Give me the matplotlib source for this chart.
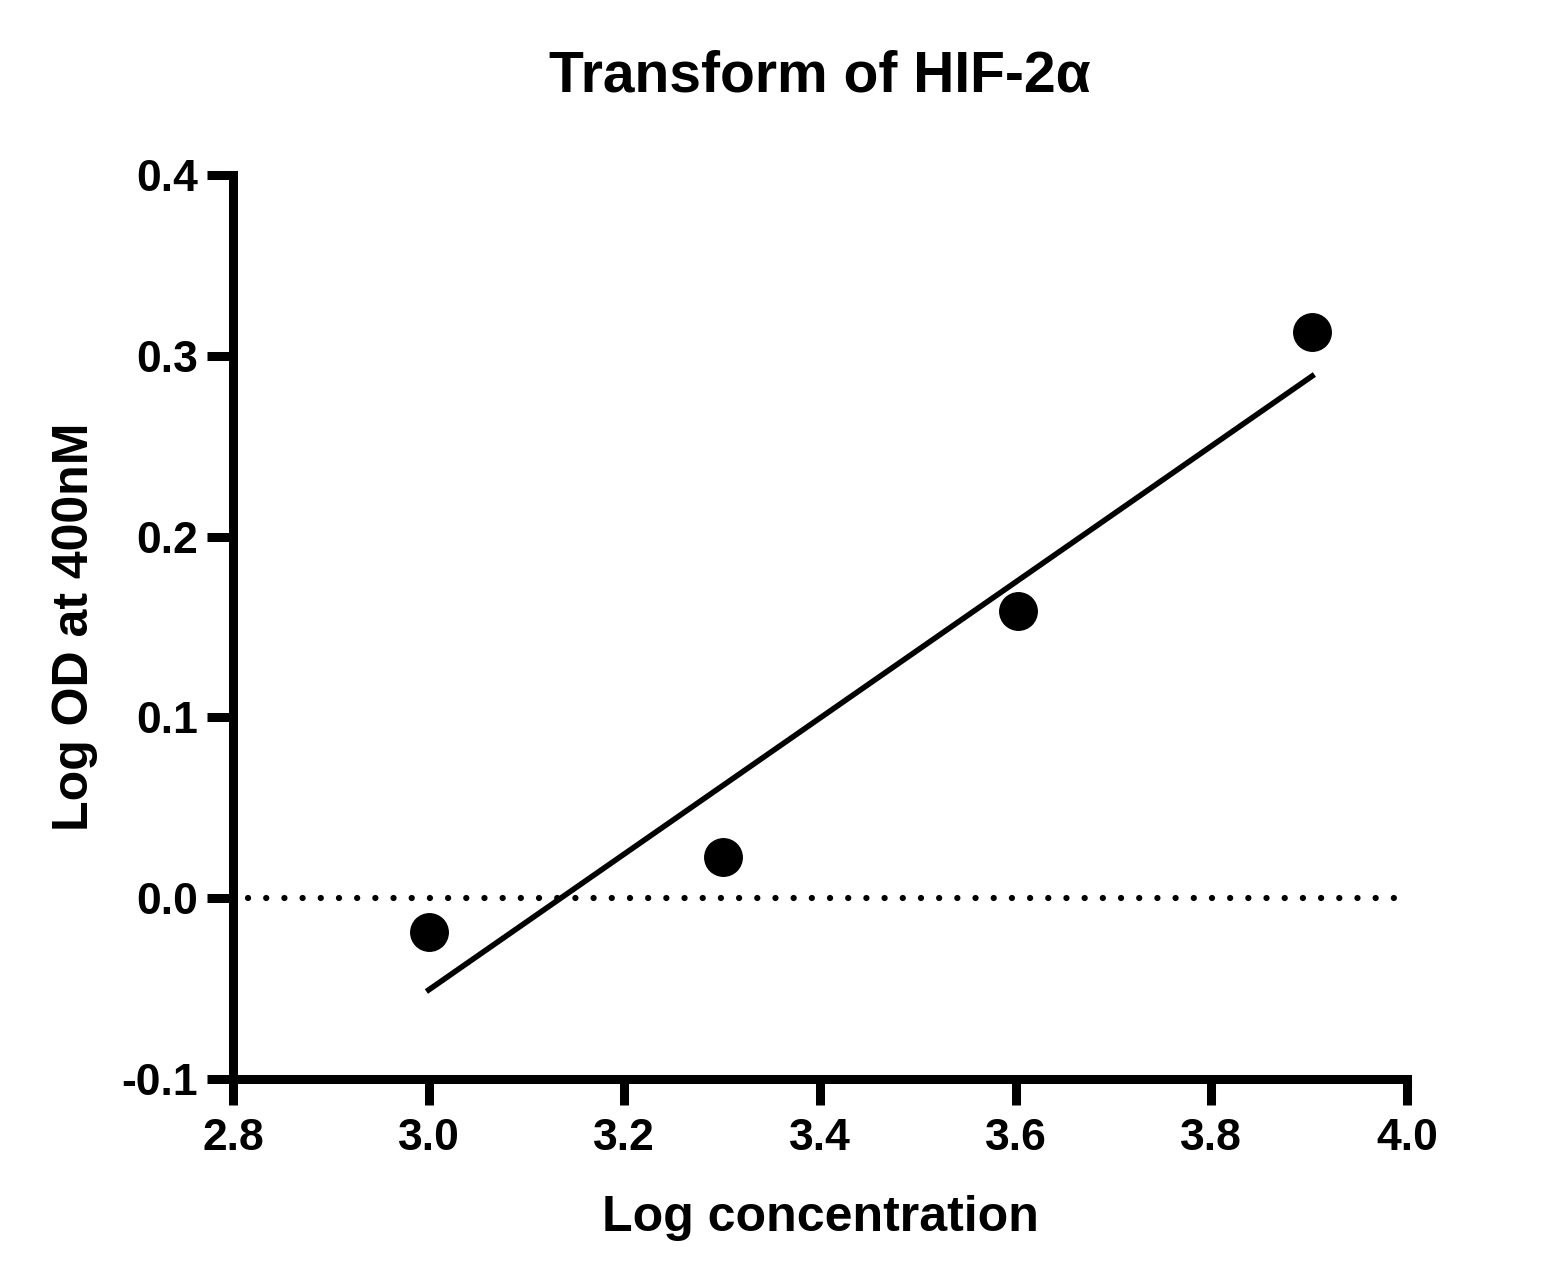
import numpy as np
import matplotlib
matplotlib.use("Agg")
import matplotlib.pyplot as plt

plt.rcParams['font.family'] = ['Liberation Sans', 'DejaVu Sans']
plt.rcParams['font.weight'] = 'bold'

log_conc = [3.0, 3.301, 3.602, 3.903]
log_od = [-0.0187, 0.0228, 0.1588, 0.3132]
xticks = [2.8, 3.0, 3.2, 3.4, 3.6, 3.8, 4.0]
yticks = [-0.1, 0.0, 0.1, 0.2, 0.3, 0.4]
title = "Transform of HIF-2α"
xlabel = "Log concentration"
ylabel = "Log OD at 400nM"

fig = plt.figure(figsize=(15.44, 12.88), dpi=100)
ax = fig.add_axes([233/1544, 1 - 1079/1288, (1407-233)/1544, (1079-175)/1288])

# zero reference line
ax.plot([2.815, 4.0], [0, 0], linestyle=(0, (0.01, 2.9)), color='black', lw=4.5,
        dash_capstyle='round', solid_capstyle='round')

# linear fit
slope, intercept = np.polyfit(log_conc, log_od, 1)
xf = np.array([log_conc[0], log_conc[-1]])
ax.plot(xf, slope * xf + intercept, color='black', lw=4.0)

ax.plot(log_conc, log_od, 'o', color='black', markersize=27)

ax.set_xlim(2.8, 4.0)
ax.set_ylim(-0.1, 0.4)
ax.set_xticks(xticks)
ax.set_yticks(yticks)
ax.set_xticklabels([f"{v:.1f}" for v in xticks])
ax.set_yticklabels([f"{v:.1f}" for v in yticks])

for s in ['top', 'right']:
    ax.spines[s].set_visible(False)
for s in ['left', 'bottom']:
    ax.spines[s].set_linewidth(6.5)
    ax.spines[s].set_capstyle('projecting')
ax.tick_params(axis='both', width=6.5, length=19, labelsize=32)
ax.tick_params(axis='x', pad=9)
ax.tick_params(axis='y', pad=6)
for lab in ax.get_xticklabels() + ax.get_yticklabels():
    lab.set_fontweight('bold')

ax.set_xlabel(xlabel, fontsize=36, fontweight='bold', labelpad=26)
ax.set_ylabel(ylabel, fontsize=36, fontweight='bold', labelpad=17)
fig.text(820/1544, 1 - 77/1288, title, fontsize=41, fontweight='bold', ha='center', va='center')

fig.savefig("out.png", dpi=100)
